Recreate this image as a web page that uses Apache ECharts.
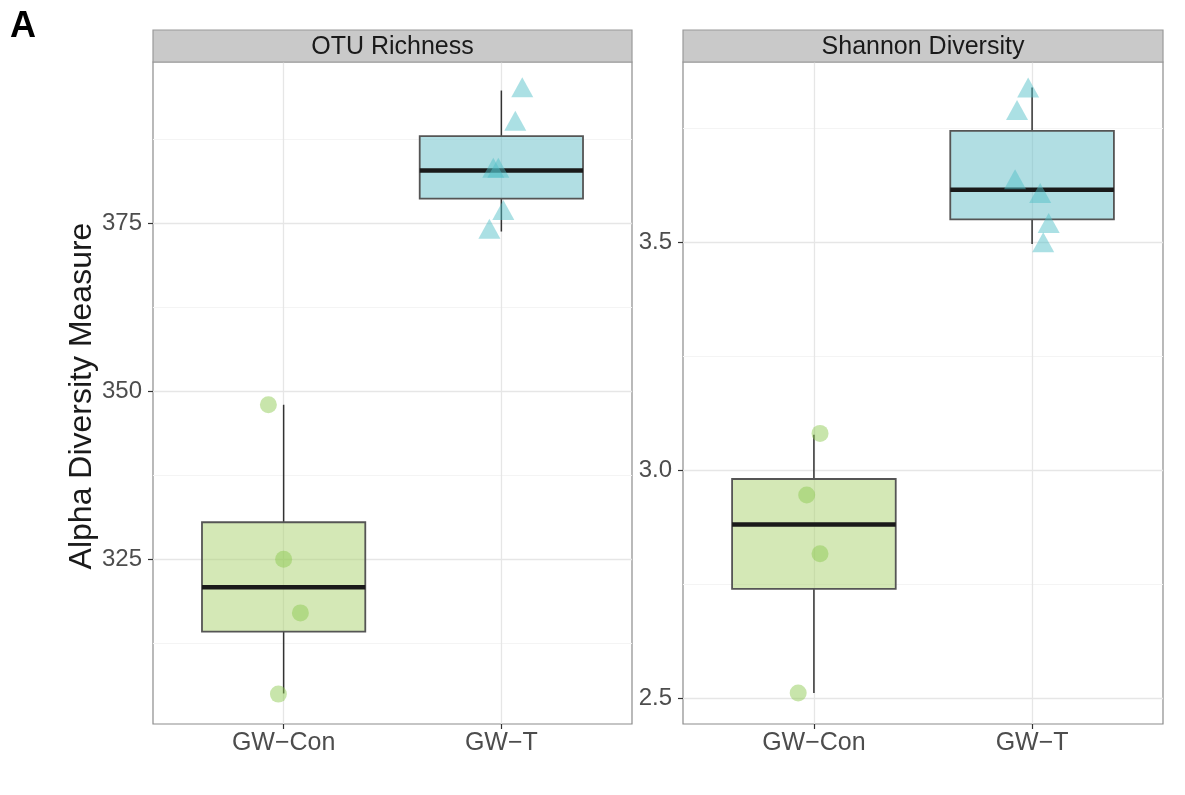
<!DOCTYPE html>
<html>
<head>
<meta charset="utf-8">
<script src="https://cdn.jsdelivr.net/npm/echarts@6/dist/echarts.min.js"></script>
<style>
html,body{margin:0;padding:0;background:#fff;}
#chart{width:1185px;height:795px;}
</style>
</head>
<body>
<div id="chart"></div>
<script>
// ---------- data ----------
const categories = ['GW\u2212Con', 'GW\u2212T'];
const panelTitles = ['OTU Richness', 'Shannon Diversity'];
const yTitle = 'Alpha Diversity Measure';
const panelLetter = 'A';

// box statistics: [min, Q1, median, Q3, max]
const richnessBoxCon = [305.0, 314.2, 320.8, 330.5, 348.0];
const richnessBoxT   = [373.8, 378.7, 382.9, 388.0, 394.8];
const shannonBoxCon  = [2.512, 2.740, 2.881, 2.981, 3.078];
const shannonBoxT    = [3.496, 3.550, 3.615, 3.744, 3.839];

// sample points and their horizontal jitter (in category units)
const richnessCon       = [348.0, 325.0, 317.0, 304.9];
const richnessConJitter = [-0.070, 0.000, 0.077, -0.024];
const richnessT         = [395.3, 390.3, 383.3, 383.3, 377.0, 374.2];
const richnessTJitter   = [0.096, 0.064, -0.037, -0.014, 0.009, -0.055];
const shannonCon        = [3.081, 2.946, 2.817, 2.512];
const shannonConJitter  = [0.028, -0.033, 0.028, -0.072];
const shannonT          = [3.839, 3.790, 3.638, 3.608, 3.542, 3.500];
const shannonTJitter    = [-0.018, -0.069, -0.078, 0.037, 0.076, 0.051];

// axes
const richnessRange = [300.45, 399.05];
const shannonRange  = [2.444, 3.895];
const richnessTicks = [325, 350, 375];
const shannonTicks  = [2.5, 3.0, 3.5];
const richnessMinor = [312.5, 337.5, 362.5, 387.5];
const shannonMinor  = [2.75, 3.25, 3.75];
const xPositions    = [1, 2];

// ---------- styling ----------
const boxFills   = ['rgba(170,210,110,0.5)', 'rgba(100,190,200,0.5)'];
const conColor   = 'rgba(140,200,80,0.6)';
const tColor     = 'rgba(80,190,198,0.6)';
const FONT = "'Liberation Sans', Arial, sans-serif";

const panels = [
  {left:153, top:62, width:479, height:662},
  {left:683, top:62, width:480, height:662}
];

function renderBox(params, api){
  const x = api.value(0);
  const v = [1,2,3,4,5].map(i => api.value(i));
  const hw = 0.375;
  const pMin = api.coord([x, v[0]]);
  const pQ1  = api.coord([x, v[1]]);
  const pMed = api.coord([x, v[2]]);
  const pQ3  = api.coord([x, v[3]]);
  const pMax = api.coord([x, v[4]]);
  const l = api.coord([x - hw, v[2]])[0];
  const r = api.coord([x + hw, v[2]])[0];
  return {type:'group', children:[
    {type:'line', shape:{x1:pMax[0], y1:pMax[1], x2:pQ3[0], y2:pQ3[1]}, style:{stroke:'#333', lineWidth:1.5}},
    {type:'line', shape:{x1:pQ1[0], y1:pQ1[1], x2:pMin[0], y2:pMin[1]}, style:{stroke:'#333', lineWidth:1.5}},
    {type:'rect', shape:{x:l, y:pQ3[1], width:r - l, height:pQ1[1] - pQ3[1]},
      style:{fill:boxFills[params.dataIndex], stroke:'#555', lineWidth:1.8}},
    {type:'line', shape:{x1:l, y1:pMed[1], x2:r, y2:pMed[1]}, style:{stroke:'#1a1a1a', lineWidth:4.5}}
  ]};
}

function gridLineSeries(idx, major, minor){
  const d = [];
  minor.forEach(v => d.push({yAxis:v, lineStyle:{color:'#f4f4f4', width:1, type:'solid'}}));
  major.forEach(v => d.push({yAxis:v, lineStyle:{color:'#e6e6e6', width:1.3, type:'solid'}}));
  xPositions.forEach(v => d.push({xAxis:v, lineStyle:{color:'#e6e6e6', width:1.3, type:'solid'}}));
  return {
    type:'line', xAxisIndex:idx, yAxisIndex:idx, data:[], silent:true, z:1,
    markLine:{silent:true, z:1, symbol:['none','none'], label:{show:false}, animation:false, data:d}
  };
}

function pts(base, vals, jit){
  return vals.map((v, i) => [base + jit[i], v]);
}

function xAxisOpt(idx){
  return {
    type:'value', gridIndex:idx, min:0.4, max:2.6,
    axisLine:{show:false}, splitLine:{show:false},
    axisTick:{show:true, customValues:xPositions, length:5, lineStyle:{color:'#333', width:1.2}},
    axisLabel:{show:true, customValues:xPositions, margin:7, color:'#4d4d4d', fontSize:25, fontFamily:FONT,
      formatter: v => categories[Math.round(v) - 1]}
  };
}
function yAxisOpt(idx, range, ticks, fmt){
  return {
    type:'value', gridIndex:idx, min:range[0], max:range[1],
    axisLine:{show:false}, splitLine:{show:false},
    axisTick:{show:true, customValues:ticks, length:5, lineStyle:{color:'#333', width:1.2}},
    axisLabel:{show:true, customValues:ticks, margin:11, color:'#4d4d4d', fontSize:24, fontFamily:FONT, formatter:fmt}
  };
}

const chart = echarts.init(document.getElementById('chart'), null, {renderer:'canvas'});

const graphics = [];
panels.forEach((p, i) => {
  graphics.push({type:'rect', z:10, shape:{x:p.left, y:30, width:p.width, height:p.top - 30},
    style:{fill:'#c9c9c9', stroke:'#9a9a9a', lineWidth:1.2}});
  graphics.push({type:'text', z:11, x:p.left + p.width / 2, y:(30 + p.top) / 2 + 1,
    style:{text:panelTitles[i], fill:'#1a1a1a', font:'25px ' + FONT, textAlign:'center', textVerticalAlign:'middle'}});
});
graphics.push({type:'text', x:82, y:396, rotation:Math.PI / 2,
  style:{text:yTitle, fill:'#1a1a1a', font:'32px ' + FONT, textAlign:'center', textVerticalAlign:'middle'}});
graphics.push({type:'text', x:10, y:9,
  style:{text:panelLetter, fill:'#000', font:'bold 36px ' + FONT, textAlign:'left', textVerticalAlign:'top'}});

chart.setOption({
  animation:false,
  backgroundColor:'#fff',
  grid: panels.map(p => ({left:p.left, top:p.top, width:p.width, height:p.height, show:true,
    backgroundColor:'#fff', borderColor:'#8c8c8c', borderWidth:1.2})),
  xAxis:[xAxisOpt(0), xAxisOpt(1)],
  yAxis:[
    yAxisOpt(0, richnessRange, richnessTicks, v => String(Math.round(v))),
    yAxisOpt(1, shannonRange, shannonTicks, v => Number(v).toFixed(1))
  ],
  graphic: graphics,
  series:[
    gridLineSeries(0, richnessTicks, richnessMinor),
    gridLineSeries(1, shannonTicks, shannonMinor),
    {type:'custom', xAxisIndex:0, yAxisIndex:0, z:3, renderItem:renderBox,
      encode:{x:0, y:[1,2,3,4,5]},
      data:[[xPositions[0]].concat(richnessBoxCon), [xPositions[1]].concat(richnessBoxT)]},
    {type:'custom', xAxisIndex:1, yAxisIndex:1, z:3, renderItem:renderBox,
      encode:{x:0, y:[1,2,3,4,5]},
      data:[[xPositions[0]].concat(shannonBoxCon), [xPositions[1]].concat(shannonBoxT)]},
    {type:'scatter', xAxisIndex:0, yAxisIndex:0, z:4, symbol:'circle', symbolSize:17,
      itemStyle:{color:conColor}, data:pts(xPositions[0], richnessCon, richnessConJitter)},
    {type:'scatter', xAxisIndex:0, yAxisIndex:0, z:4, symbol:'triangle', symbolSize:[22,20],
      itemStyle:{color:tColor}, data:pts(xPositions[1], richnessT, richnessTJitter)},
    {type:'scatter', xAxisIndex:1, yAxisIndex:1, z:4, symbol:'circle', symbolSize:17,
      itemStyle:{color:conColor}, data:pts(xPositions[0], shannonCon, shannonConJitter)},
    {type:'scatter', xAxisIndex:1, yAxisIndex:1, z:4, symbol:'triangle', symbolSize:[22,20],
      itemStyle:{color:tColor}, data:pts(xPositions[1], shannonT, shannonTJitter)}
  ]
});
</script>
</body>
</html>
